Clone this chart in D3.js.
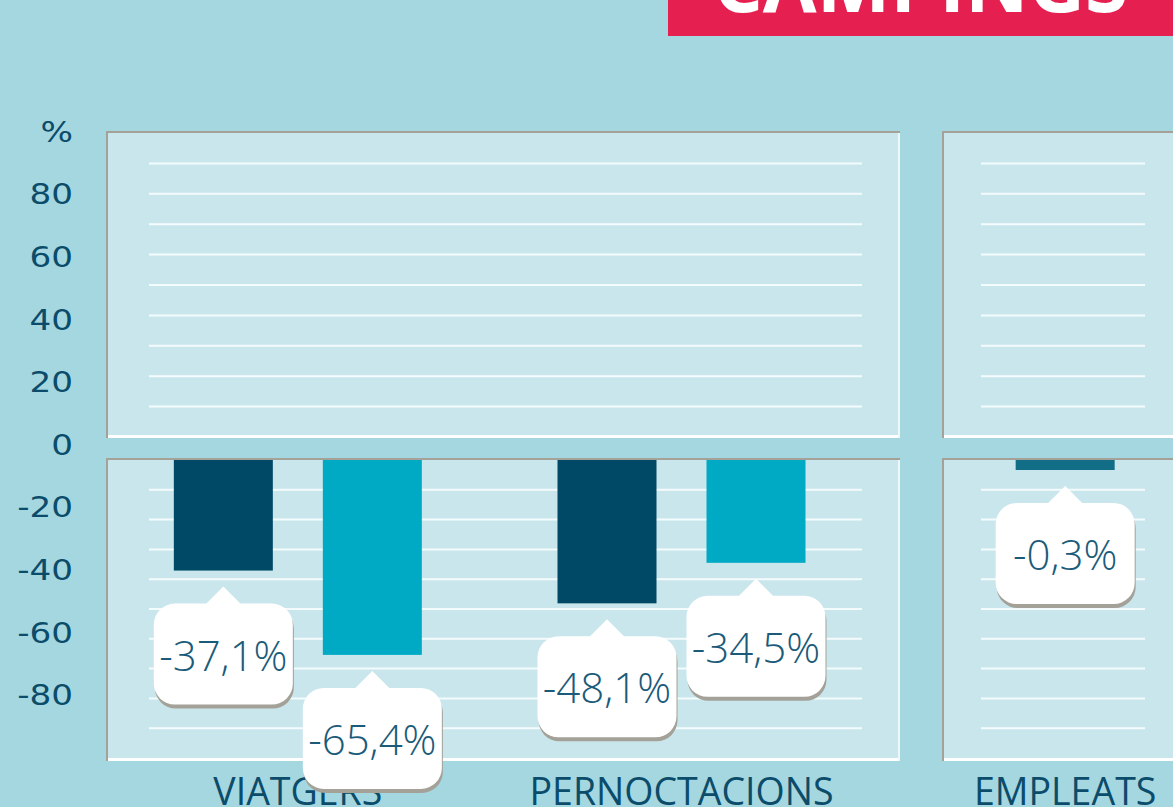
<!DOCTYPE html>
<html>
<head>
<meta charset="utf-8">
<script src="https://cdn.jsdelivr.net/npm/d3@7"></script>
<style>
  body { margin: 0; background: #a5d7e1; overflow: hidden; }
  svg { display: block; }
</style>
</head>
<body>
<div id="chart"></div>
<script>
// data
const categories = ["VIATGERS", "PERNOCTACIONS", "EMPLEATS"];
const firstSeries = [-37.1, -48.1, -0.3];
const secondSeries = [-65.4, -34.5, null];
const axisTicks = [-80, -60, -40, -20, 0, 20, 40, 60, 80, 100];
const titleText = "CAMPINGS";

const W = 1173, H = 807;
const bg = "#a5d7e1", panelFill = "#c9e6ec", edgeGray = "#a3a198";
const darkBar = "#004966", lightBar = "#00aac4", singleBar = "#126e86";
const textDark = "#0b4c6a";

const locale = d3.formatLocale({decimal: ",", thousands: ".", grouping: [3], currency: ["", "€"], minus: "-"});
const fmt = (v) => locale.format(".1f")(v) + "%";

let svg = d3.select('#chart').append('svg')
  .attr('width', W)
  .attr('height', H);

svg.append('rect').attr('width', W).attr('height', H).attr('fill', bg);

// scales
let x = d3.scaleBand().domain(categories).range([106, 1257]);
let sub = d3.scaleBand().domain([0, 1]).range([-124, 124]).paddingInner(0.3356);
let yUp = d3.scaleLinear().domain([0, 100]).range([437, 133]);
let yDown = d3.scaleLinear().domain([0, -100]).range([460, 758]);
let yLabel = d3.scaleLinear().domain([0, 100]).range([445, 132]);

// panels (top half / bottom half)
let panels = [{x0: 106, x1: 900, g0: 149, g1: 862}, {x0: 942, x1: 1200, g0: 981, g1: 1145}];
let halves = [
  {y0: 131, y1: 438, scale: yUp, ticks: yUp.ticks(10).filter(d => d > 0 && d < 100)},
  {y0: 458, y1: 761, scale: yDown, ticks: yDown.ticks(10).filter(d => d < 0 && d > -100)}
];

let panelG = svg.append('g').attr('class', 'panels');
panels.forEach((p) => {
  halves.forEach((h) => {
    let g = panelG.append('g');
    g.append('rect').attr('x', p.x0).attr('y', h.y0)
      .attr('width', p.x1 - p.x0).attr('height', h.y1 - h.y0).attr('fill', panelFill);
    g.append('rect').attr('x', p.x0).attr('y', h.y1 - 3)
      .attr('width', p.x1 - p.x0).attr('height', 3).attr('fill', '#fff');
    g.append('rect').attr('x', p.x1 - 2).attr('y', h.y0)
      .attr('width', 2).attr('height', h.y1 - h.y0).attr('fill', '#eef8fa');
    g.append('rect').attr('x', p.x0).attr('y', h.y0)
      .attr('width', p.x1 - p.x0).attr('height', 2).attr('fill', edgeGray);
    g.append('rect').attr('x', p.x0).attr('y', h.y0)
      .attr('width', 2).attr('height', h.y1 - h.y0).attr('fill', edgeGray);
    g.selectAll('line').data(h.ticks).enter().append('line')
      .attr('x1', p.g0).attr('x2', p.g1)
      .attr('y1', (d) => h.scale(d)).attr('y2', (d) => h.scale(d))
      .attr('stroke', '#f4fbfc').attr('stroke-width', 2);
  });
});

// y axis labels
let yAxis = d3.axisLeft(yLabel).tickValues(axisTicks).tickSize(0).tickPadding(0)
  .tickFormat((d) => d === 100 ? '%' : String(d));
let ya = svg.append('g').attr('class', 'yAxis').attr('transform', 'translate(73, 0)').call(yAxis);
ya.select('.domain').remove();
ya.selectAll('text')
  .attr('font-family', 'DejaVu Sans')
  .attr('font-size', 29)
  .attr('fill', textDark)
  .attr('transform', 'scale(1.18, 1)');

// title
svg.append('rect').attr('x', 668).attr('y', 0).attr('width', W - 668).attr('height', 36).attr('fill', '#e52051');
svg.append('text')
  .attr('x', (668 + W) / 2).attr('y', 12)
  .attr('text-anchor', 'middle')
  .attr('font-family', 'Open Sans').attr('font-weight', 700).attr('font-size', 78)
  .attr('fill', '#fff')
  .text(titleText);

// bars
let bars = [];
categories.forEach((c, i) => {
  let center = x(c) + x.bandwidth() / 2;
  if (secondSeries[i] === null) {
    bars.push({cat: c, v: firstSeries[i], cx: center, color: singleBar});
  } else {
    [firstSeries[i], secondSeries[i]].forEach((v, j) => {
      bars.push({cat: c, v: v, cx: center + sub(j) + sub.bandwidth() / 2, color: j === 0 ? darkBar : lightBar});
    });
  }
});
let bw = sub.bandwidth();
let barH = (d) => Math.max(yDown(d.v) - yDown(0), 10);

svg.append('g').attr('class', 'bars').selectAll('rect').data(bars).enter()
  .append('rect')
  .attr('x', (d) => d.cx - bw / 2)
  .attr('y', yDown(0))
  .attr('width', bw)
  .attr('height', barH)
  .attr('fill', (d) => d.color);

// category labels
svg.append('g').attr('class', 'xLabels').selectAll('text').data(categories).enter()
  .append('text')
  .attr('x', (d) => x(d) + x.bandwidth() / 2)
  .attr('y', 805)
  .attr('text-anchor', 'middle')
  .attr('font-family', 'Open Sans').attr('font-size', 37.5)
  .attr('fill', textDark)
  .text((d) => d);

// callouts
let boxW = 139, boxH = 101, r = 21, tip = 17;
let calloutPath = (d) => {
  let apex = yDown(0) + barH(d) + 16;
  let top = apex + tip;
  let l = d.cx - boxW / 2, rr = d.cx + boxW / 2, b = top + boxH;
  return `M${l + r},${top} L${d.cx - tip},${top} L${d.cx},${apex} L${d.cx + tip},${top} L${rr - r},${top}`
    + ` A${r},${r} 0 0 1 ${rr},${top + r} L${rr},${b - r} A${r},${r} 0 0 1 ${rr - r},${b}`
    + ` L${l + r},${b} A${r},${r} 0 0 1 ${l},${b - r} L${l},${top + r} A${r},${r} 0 0 1 ${l + r},${top} Z`;
};

let callouts = svg.append('g').attr('class', 'callouts').selectAll('g').data(bars).enter().append('g');
callouts.append('path')
  .attr('d', calloutPath)
  .attr('transform', 'translate(1, 4)')
  .attr('fill', edgeGray);
callouts.append('path')
  .attr('d', calloutPath)
  .attr('fill', '#fff');
callouts.append('text')
  .attr('x', (d) => d.cx)
  .attr('y', (d) => yDown(0) + barH(d) + 16 + tip + 67)
  .attr('text-anchor', 'middle')
  .attr('font-family', 'Open Sans').attr('font-weight', 300).attr('font-size', 42)
  .attr('fill', '#1b5b7a')
  .text((d) => fmt(d.v));
</script>
</body>
</html>
